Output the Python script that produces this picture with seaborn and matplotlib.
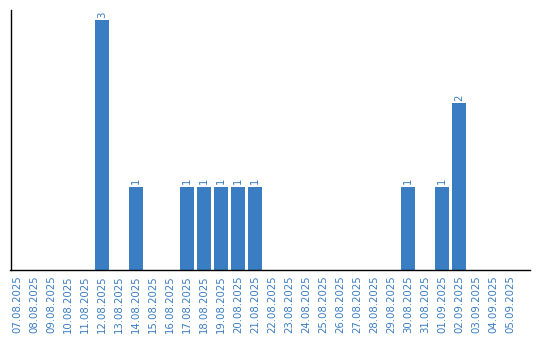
import matplotlib
matplotlib.use("Agg")
import matplotlib.pyplot as plt
import seaborn as sns
import pandas as pd

dates = ["07.08.2025", "08.08.2025", "09.08.2025", "10.08.2025", "11.08.2025",
         "12.08.2025", "13.08.2025", "14.08.2025", "15.08.2025", "16.08.2025",
         "17.08.2025", "18.08.2025", "19.08.2025", "20.08.2025", "21.08.2025",
         "22.08.2025", "23.08.2025", "24.08.2025", "25.08.2025", "26.08.2025",
         "27.08.2025", "28.08.2025", "29.08.2025", "30.08.2025", "31.08.2025",
         "01.09.2025", "02.09.2025", "03.09.2025", "04.09.2025", "05.09.2025"]
counts = [0, 0, 0, 0, 0,
          3, 0, 1, 0, 0,
          1, 1, 1, 1, 1,
          0, 0, 0, 0, 0,
          0, 0, 0, 1, 0,
          1, 2, 0, 0, 0]

color = "#3a7dc2"
df = pd.DataFrame({"date": dates, "count": counts})

sns.set_style("white")
fig = plt.figure(figsize=(5.4, 3.4), dpi=100)
ax = fig.add_axes([10.5 / 540, 70 / 340, (530 - 10.5) / 540, 260 / 340])
sns.barplot(data=df, x="date", y="count", color=color, saturation=1,
            width=0.82, ax=ax, order=dates, linewidth=0, edgecolor="none")

for i, v in enumerate(counts):
    if v > 0:
        ax.text(i, v + 0.03, str(v), rotation=90, ha="center", va="bottom",
                fontsize=7.3, color=color)

ax.set_xlim(-0.38, 30.18)
ax.set_ylim(0, 3.12)
ax.set_xlabel("")
ax.set_ylabel("")
ax.set_yticks([])
ax.tick_params(axis="x", length=0, pad=4, labelsize=7.3, labelcolor=color)
plt.setp(ax.get_xticklabels(), rotation=90)
for s in ["top", "right"]:
    ax.spines[s].set_visible(False)
for s in ["left", "bottom"]:
    ax.spines[s].set_color("black")
    ax.spines[s].set_linewidth(1.0)

fig.savefig("out.png", dpi=100)
